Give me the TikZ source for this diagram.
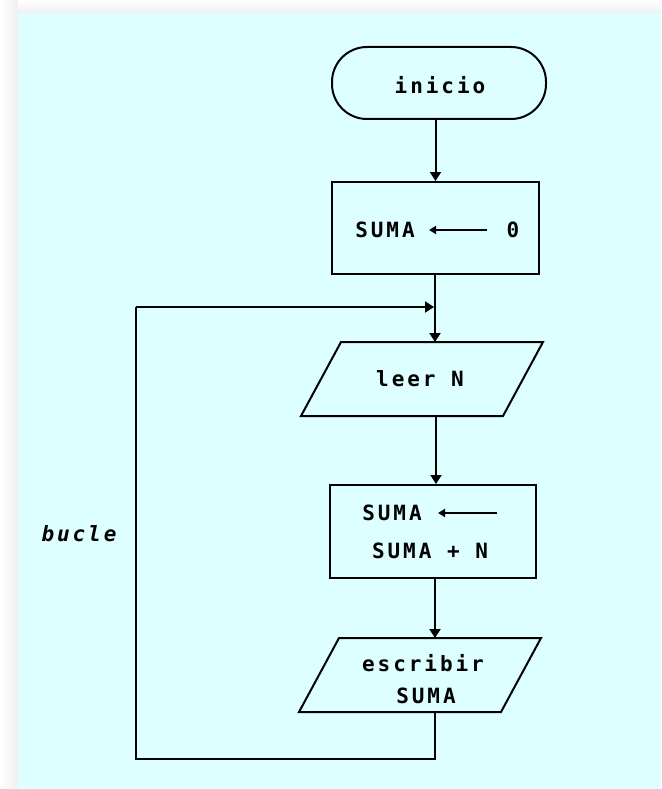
\documentclass[tikz,border=0pt]{standalone}
\usepackage{fontspec}
\newfontfamily\pix[LetterSpace=14]{DejaVu Sans Mono}
\usetikzlibrary{arrows.meta}
\definecolor{panel}{HTML}{DEFFFF}
\definecolor{outer}{HTML}{F0F0F0}
\begin{document}
\begin{tikzpicture}[x=1pt,y=-1pt,line width=2pt,
  lbl/.style={font=\pix\bfseries\fontsize{21}{21}\selectfont,inner sep=0pt,anchor=center},
  ital/.style={font=\pix\bfseries\itshape\fontsize{21}{21}\selectfont,inner sep=0pt,anchor=center},
  flow/.style={draw=black,-{Triangle[width=11pt,length=9pt]}},
  smallarr/.style={draw=black,line width=1.8pt,-{Triangle[width=8pt,length=7pt]}},
  boxst/.style={draw=black,fill=none,rectangle,inner sep=0pt}]
\useasboundingbox (0,0) rectangle (661,789);
\fill[white] (0,0) rectangle (661,789);
\shade[left color=white,right color=outer] (0,0) rectangle (18,789);
\shade[top color=white,bottom color=outer] (18,0) rectangle (661,13);
\fill[panel] (18,13) rectangle (661,789);

% terminal
\node[boxst,rounded corners=35pt,minimum width=214pt,minimum height=72pt] (ini) at (439,83) {};
\node[lbl] (initxt) at (440,85) {inicio};

% box 1
\node[boxst,minimum width=207pt,minimum height=92pt] (b1) at (435.5,228) {};
\node[lbl] (s1) at (385,230) {SUMA};
\node[lbl] (z1) at (513,230) {0};
\coordinate (a1s) at (487,230);
\coordinate (a1e) at (429,230);
\draw[smallarr] (a1s) -- (a1e);

% parallelogram 1
\coordinate (p1a) at (341,342);
\coordinate (p1b) at (543,342);
\coordinate (p1c) at (503,416);
\coordinate (p1d) at (301,416);
\draw (p1a) -- (p1b) -- (p1c) -- (p1d) -- cycle;
\node[lbl] (leer) at (420,379) {leer N};
\coordinate (p1top) at (435,342);
\coordinate (p1bot) at (436,416);

% box 2
\node[boxst,minimum width=206pt,minimum height=93pt] (b2) at (433,531.5) {};
\node[lbl] (s2) at (392,513) {SUMA};
\coordinate (a2s) at (497,513);
\coordinate (a2e) at (438,513);
\draw[smallarr] (a2s) -- (a2e);
\node[lbl] (s3) at (430,551) {SUMA + N};

% parallelogram 2
\coordinate (p2a) at (339,638);
\coordinate (p2b) at (541,638);
\coordinate (p2c) at (501,712);
\coordinate (p2d) at (299,712);
\draw (p2a) -- (p2b) -- (p2c) -- (p2d) -- cycle;
\node[lbl] (esc) at (423,663) {escribir};
\node[lbl] (esc2) at (426,696) {SUMA};
\coordinate (p2top) at (435,638);
\coordinate (p2bot) at (435,712);

% loop
\coordinate (lj) at (435,307);
\coordinate (lbot) at (435,759);
\coordinate (lleft) at (136,307);
\node[ital] (bucle) at (79,534) {bucle};

% connectors
\draw[flow] (ini.south -| b1.north) -- (b1.north);
\draw[flow] (b1.south -| p1top) -- (p1top);
\draw[flow] (p1bot) -- (p1bot |- b2.north);
\draw[flow] (b2.south -| p2top) -- (p2top);
\draw (p2bot) -- (lbot) -| (lleft);
\draw[flow] (lleft) -- ([xshift=-1pt]lj);
\end{tikzpicture}
\end{document}
